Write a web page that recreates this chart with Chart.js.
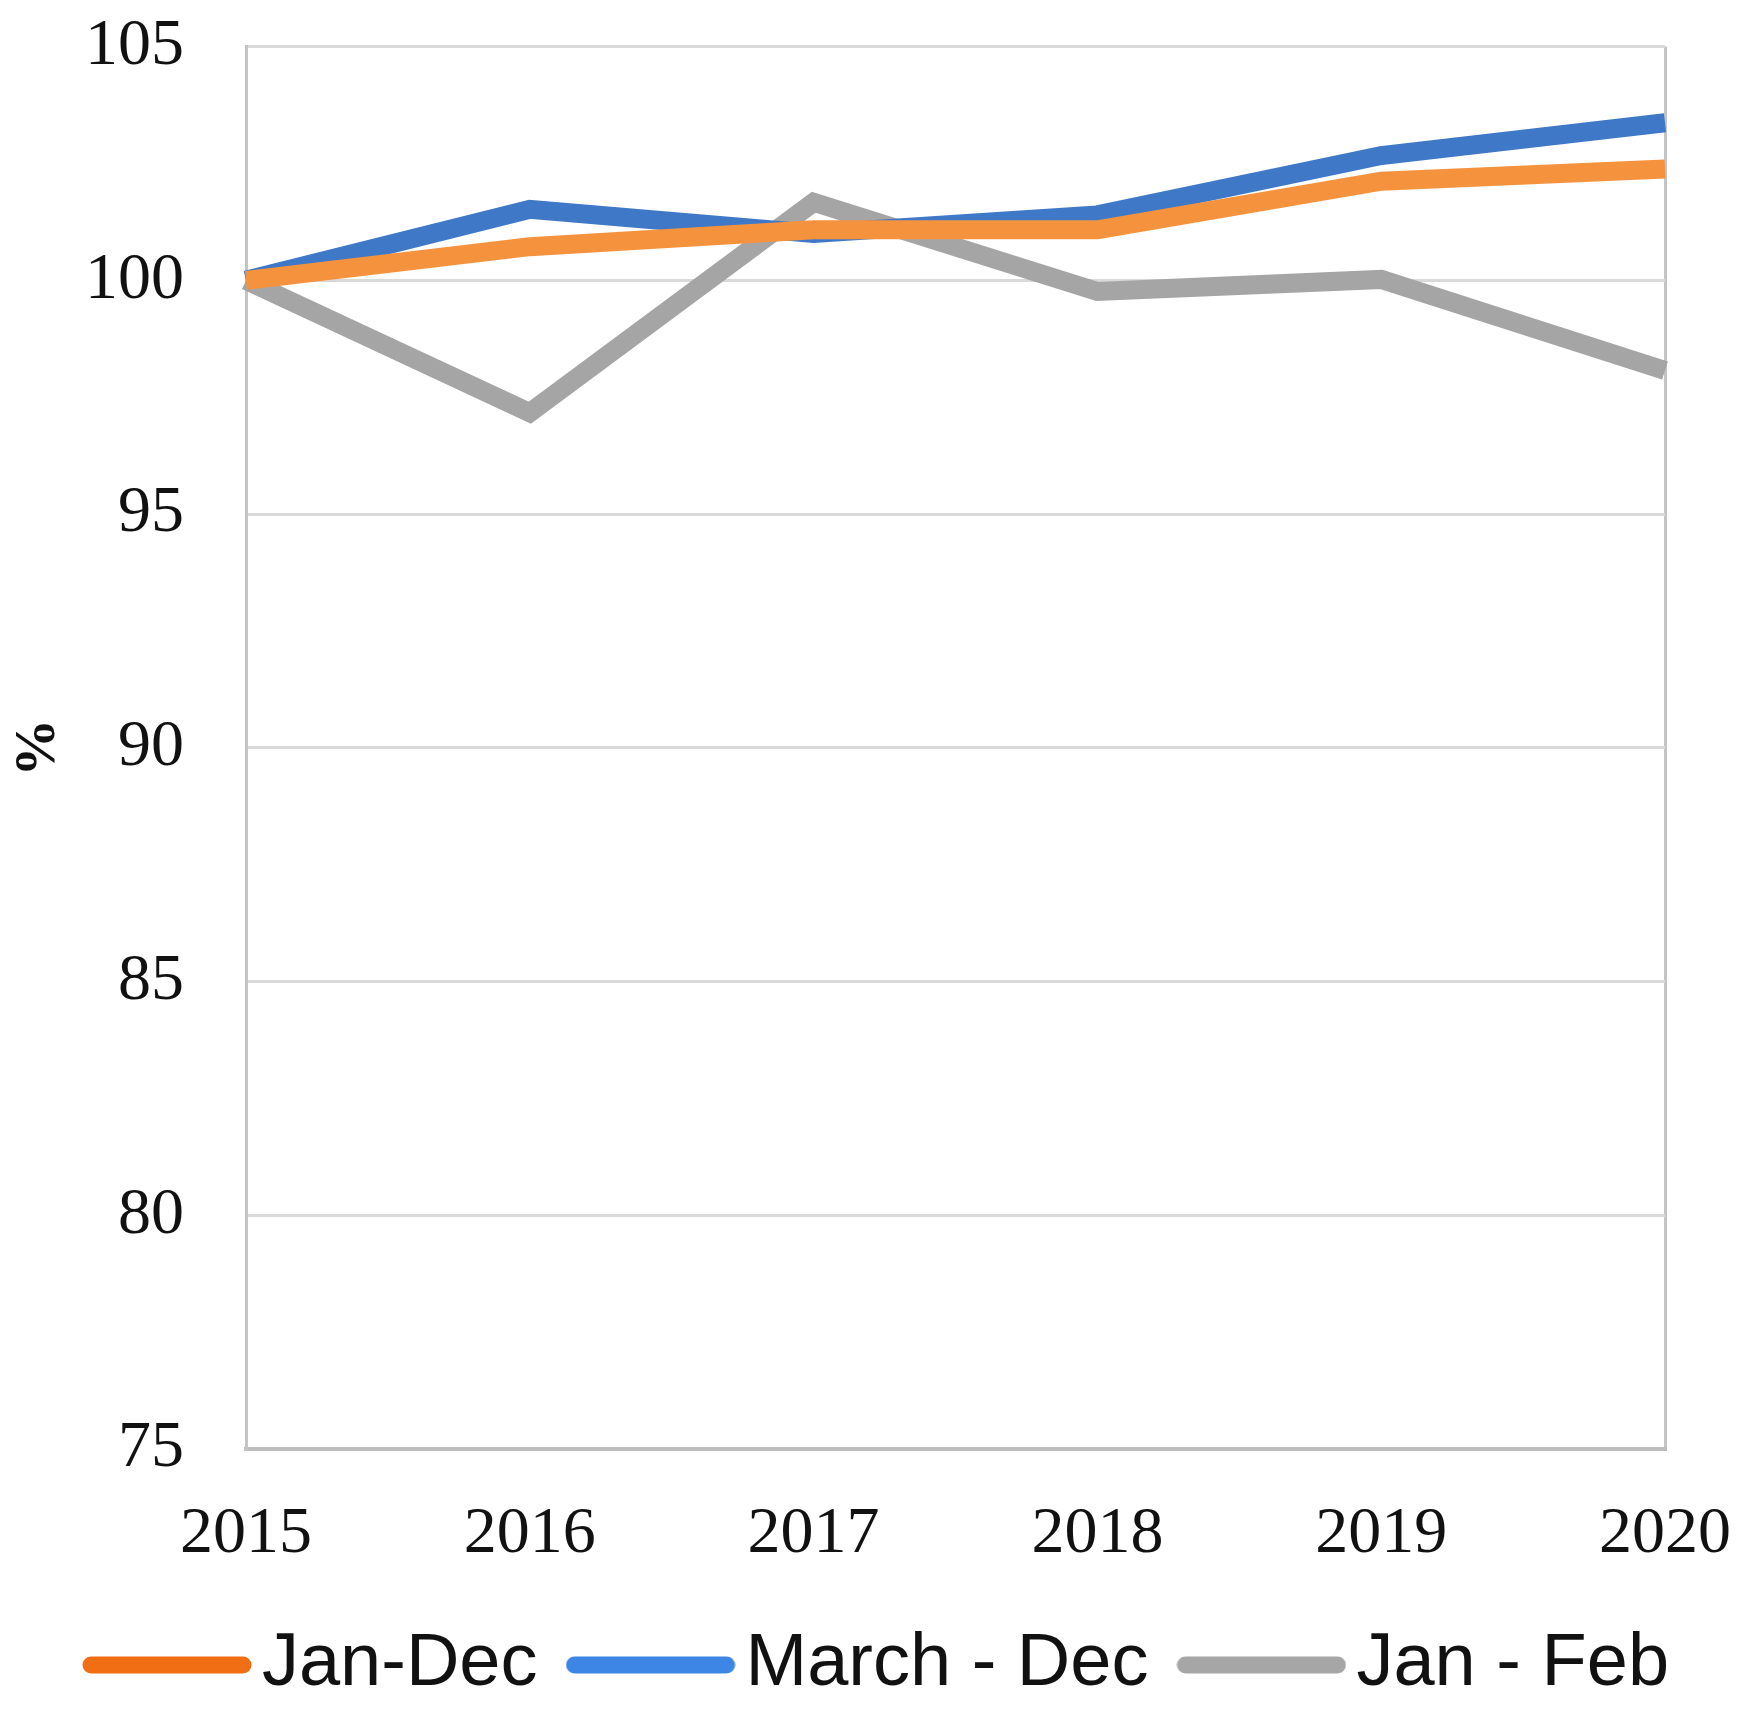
<!DOCTYPE html>
<html>
<head>
<meta charset="utf-8">
<script src="https://cdn.jsdelivr.net/npm/chart.js@4"></script>
<style>
  html, body { margin: 0; padding: 0; background: #ffffff; }
  #wrap { width: 1748px; height: 1720px; }
</style>
</head>
<body>
<div id="wrap"><canvas id="c" width="1748" height="1720"></canvas></div>
<script>
const years = ['2015', '2016', '2017', '2018', '2019', '2020'];
const janDec = [100, 100.72, 101.08, 101.08, 102.12, 102.38];
const marchDec = [100, 101.52, 101.0, 101.4, 102.67, 103.37];
const janFeb = [100, 97.17, 101.67, 99.76, 100.02, 98.07];
const seriesNames = ['Jan-Dec', 'March - Dec', 'Jan - Feb'];
const lineColors = ['#F5923E', '#3F78C6', '#A5A5A5'];
const legendColors = ['#F26E14', '#3E86E6', '#A6A6A6'];
const yMin = 75, yMax = 105, yStep = 5;

const serif = "'Liberation Serif', 'Times New Roman', serif";
const sans = "'Liberation Sans', Arial, sans-serif";

// legend marker: a thick rounded line drawn into a small canvas
function legendMarker(color) {
  const cv = document.createElement('canvas');
  cv.width = 170; cv.height = 22;
  const g = cv.getContext('2d');
  g.strokeStyle = color;
  g.lineWidth = 17;
  g.lineCap = 'round';
  g.beginPath();
  g.moveTo(9, 11);
  g.lineTo(161, 11);
  g.stroke();
  return cv;
}

new Chart(document.getElementById('c'), {
  type: 'line',
  data: {
    labels: years,
    datasets: [janDec, marchDec, janFeb].map((d, i) => ({
      label: seriesNames[i],
      data: d,
      borderColor: lineColors[i],
      backgroundColor: lineColors[i],
      borderWidth: 19,
      borderJoinStyle: 'miter',
      borderCapStyle: 'butt',
      pointRadius: 0,
      pointHoverRadius: 0,
      tension: 0,
      fill: false
    }))
  },
  options: {
    responsive: false,
    animation: false,
    devicePixelRatio: 1,
    layout: { padding: { top: 0, right: 0, bottom: 8, left: 30 } },
    plugins: {
      tooltip: { enabled: false },
      legend: {
        position: 'bottom',
        labels: {
          usePointStyle: true,
          pointStyleWidth: 116,
          boxHeight: 16,
          padding: 55,
          color: '#111',
          font: { family: sans, size: 74 },
          generateLabels(chart) {
            const items = Chart.defaults.plugins.legend.labels.generateLabels(chart);
            items.forEach((it, i) => {
              it.strokeStyle = legendColors[i];
              it.fillStyle = legendColors[i];
              it.pointStyle = legendMarker(legendColors[i]);
            });
            return items;
          }
        }
      }
    },
    scales: {
      x: {
        type: 'category',
        offset: false,
        grid: {
          display: true,
          drawTicks: true,
          tickLength: 29,
          tickColor: 'rgba(0,0,0,0)',
          lineWidth: 3,
          color: (ctx) => (ctx.index === years.length - 1 ? '#C4C4C4' : 'rgba(0,0,0,0)')
        },
        border: { display: true, color: '#BDBDBD', width: 4 },
        ticks: {
          padding: 17,
          color: '#111',
          font: { family: serif, size: 66 },
          maxRotation: 0,
          autoSkip: false
        },
        afterFit(scale) { scale.height = 124; }
      },
      y: {
        min: yMin,
        max: yMax,
        grid: {
          drawTicks: true,
          tickLength: 55,
          tickColor: 'rgba(0,0,0,0)',
          lineWidth: 3,
          color: '#D9D9D9'
        },
        border: { display: true, color: '#C4C4C4', width: 3 },
        ticks: {
          stepSize: yStep,
          padding: 7,
          color: '#111',
          font: { family: serif, size: 66 }
        },
        title: {
          display: true,
          text: '%',
          color: '#111',
          font: { family: serif, size: 58, weight: 'bold' },
          padding: { top: -26, bottom: 0 }
        },
        afterFit(scale) { scale.width = 216; }
      }
    }
  }
});
</script>
</body>
</html>
